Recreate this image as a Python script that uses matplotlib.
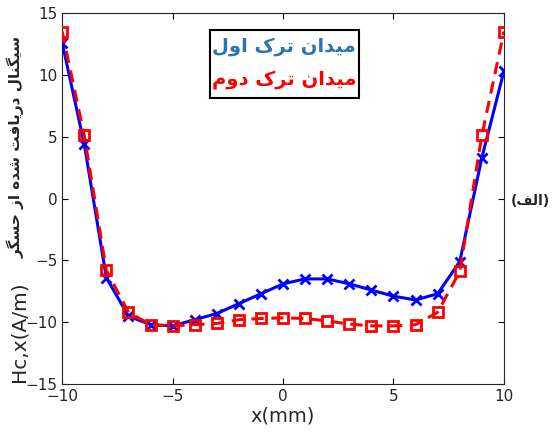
import matplotlib
matplotlib.use("Agg")
import matplotlib.pyplot as plt
import numpy as np

# Data
x_mm = [-10, -9, -8, -7, -6, -5, -4, -3, -2, -1, 0, 1, 2, 3, 4, 5, 6, 7, 8, 9, 10]
hc_first = [12.6, 4.4, -6.4, -9.5, -10.2, -10.3, -9.8, -9.3, -8.5, -7.7, -6.9, -6.5,
            -6.5, -6.9, -7.4, -7.9, -8.2, -7.7, -5.1, 3.3, 10.3]
hc_second = [13.5, 5.1, -5.8, -9.2, -10.2, -10.3, -10.2, -10.1, -9.8, -9.7, -9.65, -9.7,
             -9.9, -10.15, -10.3, -10.3, -10.2, -9.2, -5.9, 5.1, 13.5]

label_first = "میدان ترک اول"
label_second = "میدان ترک دوم"
ylabel_fa = "سیگنال دریافت شده از حسگر"
ylabel_unit = "Hc,x(A/m)"
panel_tag = "الف"

xticks = [-10, -5, 0, 5, 10]
yticks = [-15, -10, -5, 0, 5, 10, 15]

# Minimal Persian shaping (matplotlib has no bidi/shaping support)
# letter: (isolated, final, initial, medial); initial None -> no left join
FORMS = {
    "ا": ("\uFE8D", "\uFE8E", None, None),
    "د": ("\uFEA9", "\uFEAA", None, None),
    "ر": ("\uFEAD", "\uFEAE", None, None),
    "ز": ("\uFEAF", "\uFEB0", None, None),
    "و": ("\uFEED", "\uFEEE", None, None),
    "ت": ("\uFE95", "\uFE96", "\uFE97", "\uFE98"),
    "ح": ("\uFEA1", "\uFEA2", "\uFEA3", "\uFEA4"),
    "س": ("\uFEB1", "\uFEB2", "\uFEB3", "\uFEB4"),
    "ش": ("\uFEB5", "\uFEB6", "\uFEB7", "\uFEB8"),
    "ف": ("\uFED1", "\uFED2", "\uFED3", "\uFED4"),
    "ک": ("\uFB8E", "\uFB8F", "\uFB90", "\uFB91"),
    "گ": ("\uFB92", "\uFB93", "\uFB94", "\uFB95"),
    "ل": ("\uFEDD", "\uFEDE", "\uFEDF", "\uFEE0"),
    "م": ("\uFEE1", "\uFEE2", "\uFEE3", "\uFEE4"),
    "ن": ("\uFEE5", "\uFEE6", "\uFEE7", "\uFEE8"),
    "ه": ("\uFEE9", "\uFEEA", "\uFEEB", "\uFEEC"),
    "ی": ("\uFBFC", "\uFBFD", "\uFBFE", "\uFBFF"),
}


def shape_fa(text):
    out = []
    chars = list(text)
    for i, ch in enumerate(chars):
        if ch not in FORMS:
            out.append(ch)
            continue
        prev = chars[i - 1] if i > 0 else None
        nxt = chars[i + 1] if i + 1 < len(chars) else None
        join_prev = prev in FORMS and FORMS[prev][2] is not None
        join_next = nxt in FORMS and FORMS[ch][2] is not None
        iso, fin, ini, med = FORMS[ch]
        if join_prev and join_next:
            out.append(med)
        elif join_prev:
            out.append(fin)
        elif join_next:
            out.append(ini)
        else:
            out.append(iso)
    return "".join(reversed(out))


plt.rcParams["font.family"] = ["DejaVu Sans"]

fig = plt.figure(figsize=(5.55, 4.32), dpi=100)
ax = fig.add_axes([0.112, 0.111, 0.796, 0.859])

ax.plot(x_mm, hc_first, color="#0000ff", linewidth=2.2, marker="x",
        markersize=7, markeredgewidth=2.0, zorder=3)
ax.plot(x_mm, hc_second, color="#ff0000", linewidth=2.2, linestyle=(0, (4, 2.5)),
        marker="s", markersize=6.5, markerfacecolor="none", markeredgewidth=2.0, zorder=4)

ax.set_xlim(-10, 10)
ax.set_ylim(-15, 15)
ax.set_xticks(xticks)
ax.set_yticks(yticks)
ax.tick_params(direction="in", top=True, right=True, labelsize=11,
               labelcolor="#262626", length=4, width=0.8)
for s in ax.spines.values():
    s.set_color("#262626")
    s.set_linewidth(0.8)

ax.set_xlabel("x(mm)", fontsize=14, color="#262626", labelpad=2)

fig.text(0.034, 0.232, ylabel_unit, rotation=90, fontsize=14.5,
         color="#262626", ha="center", va="center")
fig.text(0.028, 0.66, shape_fa(ylabel_fa), rotation=90, fontsize=11,
         fontweight="bold", color="#262626", ha="center", va="center")

fig.text(0.956, 0.535, "(" + shape_fa(panel_tag) + ")", fontsize=10,
         fontweight="bold", color="#262626", ha="center", va="center")

# Custom legend box
box_x0, box_y0, box_w, box_h = 0.378, 0.773, 0.268, 0.157
fig.patches.append(plt.Rectangle((box_x0, box_y0), box_w, box_h, transform=fig.transFigure,
                                 facecolor="white", edgecolor="black", linewidth=1.5, zorder=5))
fig.text(box_x0 + box_w / 2, 0.892, shape_fa(label_first), fontsize=14, fontweight="bold",
         color="#2e74b5", ha="center", va="center", zorder=6)
fig.text(box_x0 + box_w / 2, 0.815, shape_fa(label_second), fontsize=14, fontweight="bold",
         color="#ff0000", ha="center", va="center", zorder=6)

fig.savefig("out.png", dpi=100)
